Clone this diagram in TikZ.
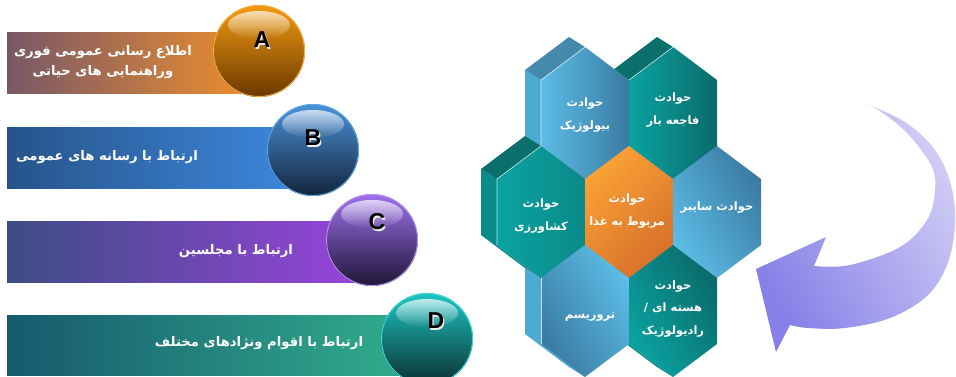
\documentclass[tikz,border=0pt]{standalone}
\usepackage{fontspec}
\usetikzlibrary{fadings}
\TeXXeTstate=1
\newfontfamily\arabicfont[Script=Arabic]{DejaVu Sans}
\newfontfamily\latinfont{Liberation Sans}
\definecolor{barAl}{HTML}{785868}\definecolor{barAr}{HTML}{F0902A}
\definecolor{barBl}{HTML}{27548A}\definecolor{barBr}{HTML}{3E8AE2}
\definecolor{barCl}{HTML}{3D4C84}\definecolor{barCr}{HTML}{9A44DC}
\definecolor{barDl}{HTML}{175A6E}\definecolor{barDr}{HTML}{32B08E}
\definecolor{blueL}{HTML}{5CBDE6}\definecolor{blueD}{HTML}{3A7AA2}
\definecolor{tealL}{HTML}{0AA3A1}\definecolor{tealD}{HTML}{0A6A6A}
\definecolor{orL}{HTML}{FAA236}\definecolor{orD}{HTML}{D8702A}
\definecolor{blueTop}{HTML}{4589AC}\definecolor{blueSide}{HTML}{4DAAD3}
\definecolor{tealTop}{HTML}{0B6F6C}\definecolor{tealSide}{HTML}{0A8B89}
\definecolor{orTop}{HTML}{C06A20}\definecolor{orSide}{HTML}{E08A30}
\definecolor{arrL}{HTML}{8680E8}\definecolor{arrR}{HTML}{D0CCF4}
\definecolor{bAt}{HTML}{F29A10}\definecolor{bAm}{HTML}{DC8600}\definecolor{bAb}{HTML}{6A3800}\definecolor{bAr}{HTML}{F4B040}
\definecolor{bBt}{HTML}{4A92D6}\definecolor{bBm}{HTML}{2A68A8}\definecolor{bBb}{HTML}{13243E}\definecolor{bBr}{HTML}{5AA8EA}
\definecolor{bCt}{HTML}{9E70EC}\definecolor{bCm}{HTML}{6A40B0}\definecolor{bCb}{HTML}{1E1636}\definecolor{bCr}{HTML}{B890F0}
\definecolor{bDt}{HTML}{1FC4C4}\definecolor{bDm}{HTML}{169494}\definecolor{bDb}{HTML}{0A3030}\definecolor{bDr}{HTML}{40D8D8}
\tikzset{
  bartext/.style={font=\arabicfont\bfseries\fontsize{13.2}{20}\selectfont, text=white, align=center, inner sep=0pt},
  hextext/.style={font=\arabicfont\bfseries\fontsize{11.5}{22.5}\selectfont, text=white, align=center, inner sep=0pt},
  balllabel/.style={font=\latinfont\bfseries\fontsize{23}{23}\selectfont, text=black, inner sep=0pt},
  ballshadow/.style={font=\latinfont\bfseries\fontsize{23}{23}\selectfont, text=white!85!gray, inner sep=0pt},
  edgeline/.style={draw=white, draw opacity=0.75, line width=0.6pt},
}
% extrusion of a hexagon: #1 cx, #2 cy, #3 top colour, #4 side colour
\newcommand\hexback[4]{%
  \fill[#4] (#1-44,#2-33) -- (#1-60,#2-43) -- (#1-60,#2+23) -- (#1-16,#2+56) -- (#1,#2+66) -- (#1-44,#2+33) -- cycle;
  \fill[#3] (#1-44,#2-33) -- (#1,#2-66) -- (#1-16,#2-76) -- (#1-60,#2-43) -- cycle;
}
% front face of a hexagon: #1 cx, #2 cy, #3 shading options
\newcommand\hexfront[3]{%
  \path[#3] (#1,#2-66) -- (#1+44,#2-33) -- (#1+44,#2+33) -- (#1,#2+66) -- (#1-44,#2+33) -- (#1-44,#2-33) -- cycle;
}
% ball: #1 cx, #2 cy, #3 top, #4 middle, #5 bottom, #6 rim
\newcommand\ball[6]{%
  \shade[top color=#3, middle color=#4, bottom color=#5] (#1,#2) circle (46);
  \draw[color=#6, line width=0.9pt] (#1,#2) circle (45.5);
  \fill[white, path fading=south, fill opacity=0.7] (#1,#2-26) ellipse (31 and 14);
}
\begin{document}
\begin{tikzpicture}[x=1pt,y=-1pt]
\useasboundingbox (0,0) rectangle (956,376);
\clip (0,0) rectangle (956,376);
\fill[white] (0,0) rectangle (956,376);

% ---------- bars ----------
\shade[left color=barAl, right color=barAr] (7,32) rectangle (259,93);
\shade[left color=barBl, right color=barBr] (7,127) rectangle (313,188);
\shade[left color=barCl, right color=barCr] (7,221) rectangle (372,282);
\shade[left color=barDl, right color=barDr] (7,315) rectangle (427,375);

\node[bartext] (tA) at (103,62) {\beginR اطلاع رسانی عمومی فوری\endR\\\beginR وراهنمایی های حیاتی\endR};
\node[bartext] (tB) at (107,157) {\beginR ارتباط با رسانه های عمومی\endR};
\node[bartext] (tC) at (236,251) {\beginR ارتباط با مجلسین\endR};
\node[bartext] (tD) at (259,343) {\beginR ارتباط با اقوام ونژادهای مختلف\endR};

% ---------- balls ----------
\ball{259}{51}{bAt}{bAm}{bAb}{bAr}
\ball{313}{150}{bBt}{bBm}{bBb}{bBr}
\ball{372}{240}{bCt}{bCm}{bCb}{bCr}
\ball{427}{339}{bDt}{bDm}{bDb}{bDr}

\node[ballshadow] at (263.2,41.2) {A};
\node[balllabel] (A) at (262,40) {A};
\node[ballshadow] at (314.2,139.2) {B};
\node[balllabel] (B) at (313,138) {B};
\node[ballshadow] at (378.2,223.2) {C};
\node[balllabel] (C) at (377,222) {C};
\node[ballshadow] at (437.2,322.2) {D};
\node[balllabel] (D) at (436,321) {D};

% ---------- hexagons: extrusions ----------
\hexback{585}{113}{blueTop}{blueSide}
\hexback{673}{113}{tealTop}{tealSide}
\hexback{541}{212}{tealTop}{tealSide}
\hexback{629}{212}{orTop}{orSide}
\hexback{717}{212}{blueTop}{blueSide}
\hexback{585}{311}{blueTop}{blueSide}
\hexback{673}{311}{tealTop}{tealSide}

% ---------- hexagons: fronts ----------
\hexfront{585}{113}{left color=blueL, middle color=blueL!90!blueD, right color=blueD}
\hexfront{673}{113}{left color=tealL, middle color=tealL!75!tealD, right color=tealD}
\hexfront{541}{212}{left color=tealL, middle color=tealL, right color=tealL!55!tealD}
\hexfront{629}{212}{left color=orL, middle color=orL!80!orD, right color=orD, shading angle=45}
\hexfront{717}{212}{left color=blueL, middle color=blueL!90!blueD, right color=blueD, shading angle=120}
\hexfront{585}{311}{left color=blueL, middle color=blueL!85!blueD, right color=blueD, shading angle=300}
\hexfront{673}{311}{left color=tealL, middle color=tealL!75!tealD, right color=tealD, shading angle=120}

% light edges
\draw[edgeline] (541,146) -- (541,80) -- (585,47);
\draw[edgeline] (629,80) -- (673,47);
\draw[edgeline] (497,245) -- (497,179) -- (541,146);
\draw[edgeline] (541,344) -- (541,278);

% hexagon texts
\node[hextext] (hBio) at (585,115) {\beginR حوادث\endR\\\beginR بیولوژیک\endR};
\node[hextext] (hDis) at (673,110) {\beginR حوادث\endR\\\beginR فاجعه بار\endR};
\node[hextext] (hAgr) at (541,216) {\beginR حوادث\endR\\\beginR کشاورزی\endR};
\node[hextext] (hFood) at (627,211) {\beginR حوادث\endR\\\beginR مربوط به غذا\endR};
\node[hextext] (hCyb) at (717,208) {\beginR حوادث سایبر\endR};
\node[hextext] (hTer) at (590,317) {\beginR تروریسم\endR};
\node[hextext] (hNuc) at (673,309) {\beginR حوادث\endR\\\beginR هسته ای /\endR\\\beginR رادیولوژیک\endR};

% ---------- curved arrow ----------
\path[left color=arrL, right color=arrR, shading angle=120]
  plot[smooth, tension=0.6] coordinates {(866,104) (905,122) (935,150) (951,185) (955,225) (947,265) (927,296) (890,318) (845,328) (808,328) (790,325)}
  -- (776,352) -- (756,269) -- (826,237)
  -- plot[smooth, tension=0.6] coordinates {(814,266) (850,265) (900,247) (927,220) (935,190) (931,165) (907,133) (880,111) (866,104)}
  -- cycle;
\end{tikzpicture}
\end{document}
